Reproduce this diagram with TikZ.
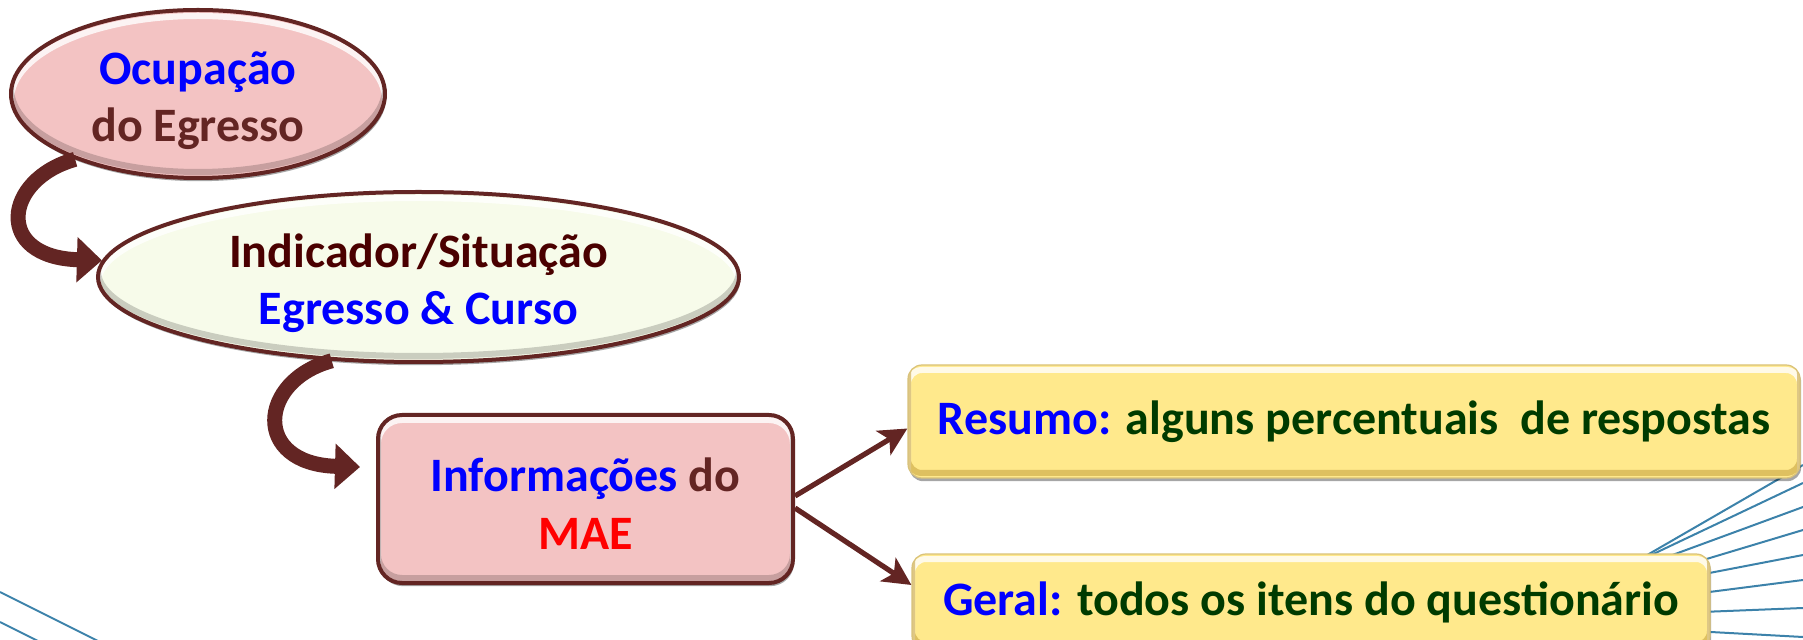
\documentclass[tikz,border=0pt]{standalone}
\usepackage{fontspec}
\setmainfont{Carlito}
\usetikzlibrary{shapes.geometric,arrows.meta,calc,shadows}
\definecolor{brd}{HTML}{632523}
\definecolor{pinkf}{HTML}{F3C3C3}
\definecolor{ivory}{HTML}{F7FBEA}
\definecolor{yel}{HTML}{FFE98C}
\definecolor{yelbot}{HTML}{C9A543}
\definecolor{yeledge}{HTML}{D9C27A}
\definecolor{ttblue}{HTML}{0000FF}
\definecolor{ttbrown}{HTML}{632523}
\definecolor{ttmaroon}{HTML}{4A0000}
\definecolor{ttred}{HTML}{FF0000}
\definecolor{ttgreen}{HTML}{003B00}
\definecolor{deco}{HTML}{3C82AA}
\begin{document}
\begin{tikzpicture}[x=0.5pt,y=-0.5pt,
  font=\fontsize{24}{28.5}\selectfont\bfseries,
  shad/.style={drop shadow={shadow xshift=0.6pt,shadow yshift=-1.6pt,opacity=.35,fill=black}},
  ovalbevel/.style n args={2}{path picture={
     \draw[white,opacity=.8,line width=3pt] ([yshift=-3pt]path picture bounding box.center) ellipse [x radius=#1, y radius=#2];
     \draw[black,opacity=.18,line width=3pt] ([yshift=3pt]path picture bounding box.center) ellipse [x radius=#1, y radius=#2];}},
  rectbevel/.style n args={3}{path picture={
     \draw[white,opacity=.8,line width=3pt,rounded corners=#1] ([yshift=-2.5pt]path picture bounding box.south west) rectangle ([yshift=-2.5pt]path picture bounding box.north east);
     \draw[#2,opacity=#3,line width=3pt,rounded corners=#1] ([yshift=2.5pt]path picture bounding box.south west) rectangle ([yshift=2.5pt]path picture bounding box.north east);}},
  oval/.style={ellipse, draw=brd, line width=2pt, inner sep=0pt, align=center, shad},
  mbox/.style={rectangle, rounded corners=12pt, draw=brd, line width=2pt, fill=pinkf, align=center,
     minimum width=207.5pt, minimum height=84pt, shad, rectbevel={12pt}{black}{.18}},
  ybox/.style={rectangle, rounded corners=7pt, draw=yeledge, line width=0.6pt, fill=yel, shad,
     inner sep=0pt, rectbevel={7pt}{yelbot}{.6}},
  bendarrow/.style={draw=brd, line width=7.5pt, -{Triangle[width=22pt,length=12.5pt]}},
  link/.style={draw=brd, line width=2.6pt, -{Stealth[length=14pt,width=14pt,inset=3.5pt]}},
  decoline/.style={draw=deco, line width=1pt}
]
\useasboundingbox (0,0) rectangle (1803,640);
\clip (0,0) rectangle (1803,640);

% decorative background lines
\draw[decoline] (0,592) -- (110,647);
\draw[decoline] (0,622) -- (52,648);
\draw[decoline] (1500,640) -- (1803,465);
\draw[decoline] (1550,603) -- (1803,483);
\draw[decoline] (1550,600) -- (1803,507);
\draw[decoline] (1600,591) -- (1803,530);
\draw[decoline] (1600,594) -- (1803,555);
\draw[decoline] (1600,606) -- (1803,580);
\draw[decoline] (1600,616) -- (1803,608);
\draw[decoline] (1600,626) -- (1803,637);

% nodes
\node[oval, fill=pinkf, minimum width=187pt, minimum height=84pt, ovalbevel={93.5pt}{42pt},
      text height=52pt, text depth=4pt] (e1) at (198,94)
  {\textcolor{ttblue}{Ocupação}\\\textcolor{ttbrown}{do Egresso}};
\node[oval, fill=ivory, minimum width=320.5pt, minimum height=85pt, ovalbevel={160.25pt}{42.5pt},
      text height=52pt, text depth=4pt] (e2) at (418.5,277)
  {\textcolor{ttmaroon}{Indicador/Situação}\\\textcolor{ttblue}{Egresso \& Curso}};
\node[mbox, text height=53pt, text depth=3pt] (mae) at (585.5,499)
  {\textcolor{ttblue}{Informações} \textcolor{ttbrown}{do}\\\textcolor{ttred}{MAE}};
\node[ybox, minimum width=446pt, minimum height=56.5pt] (r1) at (1354,421.5)
  {\textcolor{ttblue}{Resumo:} \textcolor{ttgreen}{alguns percentuais\ \ de respostas}};
\node[ybox, minimum width=399pt, minimum height=48pt] (g2) at (1311,602)
  {\textcolor{ttblue}{Geral:} \textcolor{ttgreen}{todos os itens do questionário}};

% connectors
\draw[bendarrow] (e1.208) .. controls +(-72,20) and +(-108,-3) .. (e2.177);
\draw[bendarrow] (e2.224) .. controls +(-74,20) and +(-108,-3) .. ($(mae.west)+(-16,-32)$);
\draw[link] ($(mae.east)+(0,-3)$) -- ($(r1.west)+(0,7)$);
\draw[link] ($(mae.east)+(0,9)$) -- ($(g2.west)+(0,-17)$);
\end{tikzpicture}
\end{document}
